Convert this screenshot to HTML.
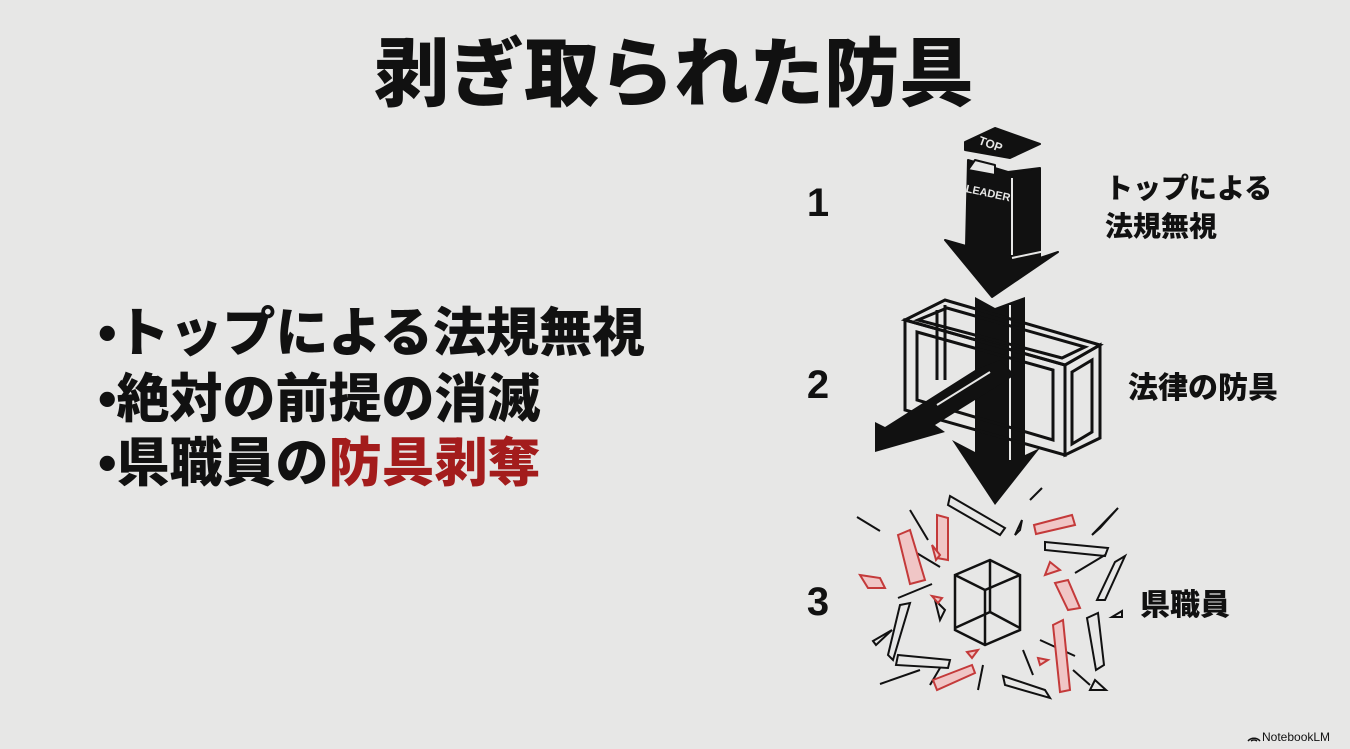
<!DOCTYPE html>
<html><head><meta charset="utf-8">
<style>
html,body{margin:0;padding:0;background:#e7e7e6;}
svg{display:block}
text{font-family:"Liberation Sans","Noto Sans CJK JP",sans-serif;font-weight:900;fill:#111;}
</style></head><body>
<svg width="1350" height="749" viewBox="0 0 1350 749" xmlns="http://www.w3.org/2000/svg">
<rect width="1350" height="749" fill="#e7e7e6"/>
<text x="674" y="100" font-size="75" text-anchor="middle">剥ぎ取られた防具</text>

<g font-size="53">
<text x="98" y="351">•トップによる法規無視</text>
<text x="98" y="417">•絶対の前提の消滅</text>
<text x="98" y="481">•県職員の<tspan fill="#a31c1c">防具剥奪</tspan></text>
</g>

<g font-size="40">
<text x="818" y="216" text-anchor="middle">1</text>
<text x="818" y="398" text-anchor="middle">2</text>
<text x="818" y="615" text-anchor="middle">3</text>
</g>
<g font-size="28">
<text x="1105" y="198">トップによる</text>
<text x="1105" y="236">法規無視</text>
<text x="1128" y="398" font-size="30">法律の防具</text>
<text x="1140" y="615" font-size="30">県職員</text>
</g>

<!-- leader arrow -->
<g stroke="#111" stroke-width="2" stroke-linejoin="round">
<polygon points="965,142 995,128 1040,144 1010,158 965,150" fill="#111"/>
<polygon points="968,160 1008,172 1040,168 1040,258 1058,252 992,297 945,240 966,246" fill="#111"/>
<polygon points="975,160 995,165 995,175 968,170" fill="#e7e7e6"/>
<line x1="1012" y1="178" x2="1012" y2="255" stroke="#e7e7e6" stroke-width="2"/>
<line x1="1012" y1="258" x2="1050" y2="250" stroke="#e7e7e6" stroke-width="2"/>
</g>
<text x="978" y="148" font-size="12" style="fill:#e7e7e6" transform="rotate(20 990 145)">TOP</text>
<text x="966" y="195" font-size="11" style="fill:#e7e7e6" transform="rotate(12 980 190)">LEADER</text>

<!-- second shaft -->
<polygon points="975,297 995,308 1025,297 1025,455 1040,448 995,505 952,440 975,452" fill="#111"/>
<line x1="1010" y1="305" x2="1010" y2="460" stroke="#e7e7e6" stroke-width="2"/>

<!-- frame box -->
<g fill="none" stroke="#111" stroke-width="3">
<polygon points="905,320 945,300 1100,345 1065,365"/>
<polygon points="918,320 947,308 1085,347 1062,358"/>
<polygon points="905,320 1065,365 1065,455 905,410"/>
<polygon points="917,332 1053,370 1053,440 917,400"/>
<polygon points="1065,365 1100,345 1100,438 1065,455"/>
<polygon points="1072,372 1092,360 1092,432 1072,444"/>
<line x1="937" y1="310" x2="937" y2="380"/>
<line x1="945" y1="305" x2="945" y2="380"/>
</g>
<!-- deflected arrow -->
<polygon points="1000,360 1015,375 935,425 945,432 875,452 875,422 885,427 975,370" fill="#111"/>
<line x1="990" y1="372" x2="937" y2="405" stroke="#e7e7e6" stroke-width="2"/>

<!-- explosion -->
<g fill="none" stroke="#111" stroke-width="2.5">
<polygon points="955,575 990,560 1020,575 1020,630 985,645 955,630"/>
<polyline points="955,575 985,590 1020,575"/>
<line x1="985" y1="590" x2="985" y2="645"/>
<line x1="990" y1="560" x2="990" y2="612"/>
<line x1="955" y1="628" x2="990" y2="612"/>
<line x1="990" y1="612" x2="1020" y2="628"/>
<g stroke-width="2">
<polygon points="950,496 1005,528 1000,535 948,505"/>
<polygon points="1045,542 1108,548 1105,556 1045,550"/>
<polygon points="1115,562 1125,556 1105,600 1097,600"/>
<polygon points="1087,618 1098,613 1104,665 1096,670"/>
<polygon points="900,605 910,603 893,660 888,655"/>
<polygon points="898,655 950,660 948,668 896,665"/>
<polygon points="1003,676 1045,690 1050,698 1005,685"/>
<line x1="857" y1="517" x2="880" y2="531"/><line x1="910" y1="510" x2="928" y2="540"/>
<line x1="915" y1="552" x2="940" y2="567"/><line x1="898" y1="598" x2="932" y2="584"/>
<line x1="1030" y1="500" x2="1042" y2="488"/><line x1="1075" y1="573" x2="1105" y2="555"/>
<line x1="1040" y1="640" x2="1075" y2="656"/><line x1="1023" y1="650" x2="1033" y2="675"/>
<line x1="940" y1="668" x2="930" y2="685"/><line x1="983" y1="665" x2="978" y2="690"/>
<line x1="880" y1="684" x2="920" y2="670"/><line x1="1073" y1="670" x2="1090" y2="685"/>
<polygon points="1092,535 1118,508 1100,528"/>
<polygon points="873,641 892,630 876,645"/>
<polygon points="1112,617 1122,611 1122,617"/>
<polygon points="1090,690 1106,690 1095,680"/>
<polygon points="1015,535 1022,520 1020,530"/>
<polygon points="935,600 940,620 945,610"/>
</g>
<g stroke="#c43a3a" fill="#f0c6c6" stroke-width="2">
<polygon points="898,535 910,530 925,580 910,584"/>
<polygon points="937,515 948,518 948,560 937,558"/>
<polygon points="1034,525 1072,515 1075,525 1036,534"/>
<polygon points="1055,583 1068,580 1080,608 1068,610"/>
<polygon points="1053,625 1063,620 1070,690 1060,692"/>
<polygon points="933,680 972,665 975,673 937,690"/>
<polygon points="860,575 880,578 885,588 868,588"/>
<polygon points="932,545 940,555 936,560"/>
<polygon points="1050,562 1060,570 1045,575"/>
<polygon points="932,596 942,598 938,603"/>
<polygon points="967,652 978,650 972,658"/>
<polygon points="1038,658 1048,660 1040,665"/>
</g>
</g>

<text x="1262" y="741" font-size="12" style="font-weight:400">NotebookLM</text>
<path d="M1248,741 a8,8 0 0 1 12,0 M1251,741 a5,5 0 0 1 6,0" stroke="#111" stroke-width="1.5" fill="none"/>
</svg>
</body></html>
